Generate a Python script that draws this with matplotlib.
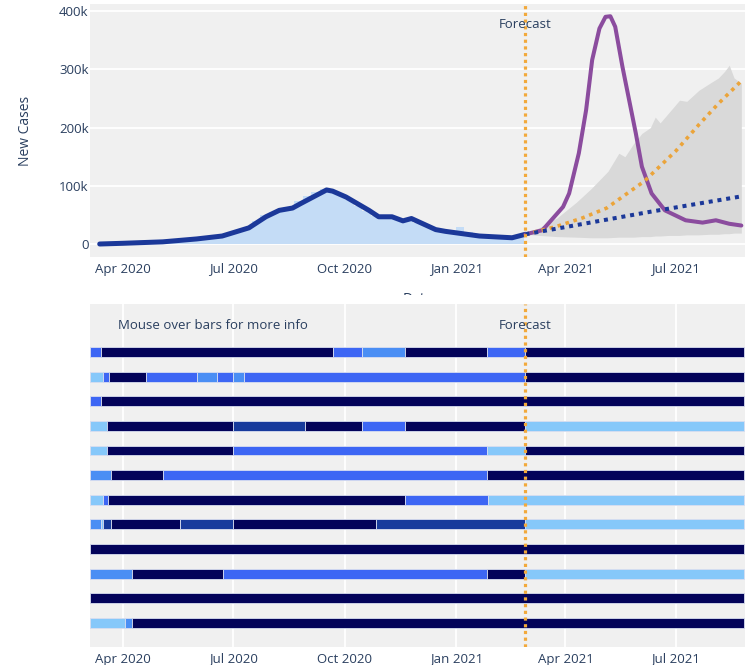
import matplotlib
matplotlib.use("Agg")
import matplotlib.pyplot as plt
import matplotlib.dates as mdates
from matplotlib.patches import Rectangle
import pandas as pd

plt.rcParams['font.family'] = ['Open Sans', 'DejaVu Sans']

TEXT = '#2a3f5f'
BG = '#f0f0f0'

# ---------------- case data (thousands) ----------------
week_dates = pd.date_range('2020-03-09', '2021-02-22', freq='7D')
daily_cases_k = [0.5, 1, 1.5, 2, 2, 2, 2.5, 3, 4, 5, 6, 7, 9, 11, 13, 15, 18, 23,
                 29, 40, 50, 56, 61, 64, 74, 82, 90, 94, 90, 82, 75, 66, 57, 49,
                 46, 46, 39, 42, 37, 31, 26, 22, 20, 30, 21, 15, 13, 12, 11, 12, 15]

hist_dates = ['2020-03-13', '2020-04-01', '2020-05-04', '2020-06-01', '2020-06-22',
              '2020-07-14', '2020-07-28', '2020-08-08', '2020-08-19', '2020-08-26',
              '2020-09-16', '2020-09-21', '2020-10-02', '2020-10-21', '2020-10-29',
              '2020-11-09', '2020-11-18', '2020-11-25', '2020-12-15', '2020-12-23',
              '2021-01-06', '2021-01-20', '2021-02-16', '2021-02-27']
hist_k = [0.3, 1.5, 4, 9, 14, 28, 47, 58, 62, 70, 93, 91, 81, 58, 47, 47, 40, 44,
          25, 22, 18, 14, 11, 17]

surge_dates = ['2021-02-27', '2021-03-13', '2021-03-30', '2021-04-04', '2021-04-12',
               '2021-04-18', '2021-04-23', '2021-04-29', '2021-05-04', '2021-05-08',
               '2021-05-12', '2021-05-18', '2021-05-29', '2021-06-03', '2021-06-11',
               '2021-06-22', '2021-07-09', '2021-07-23', '2021-08-03', '2021-08-14',
               '2021-08-24']
surge_k = [17, 24, 64, 87, 156, 230, 316, 370, 390, 391, 373, 304, 190, 133, 87,
           58, 41, 37, 41, 35, 32]

growth_dates = ['2021-02-27', '2021-03-24', '2021-04-15', '2021-05-05', '2021-06-05',
                '2021-07-01', '2021-07-20', '2021-08-05', '2021-08-24']
growth_k = [17, 30, 45, 62, 108, 160, 205, 241, 280]

trend_dates = ['2021-02-27', '2021-06-11', '2021-08-24']
trend_k = [17, 56, 82]

band_dates = ['2021-02-27', '2021-03-10', '2021-03-25', '2021-04-10', '2021-04-22',
              '2021-04-29', '2021-05-06', '2021-05-15', '2021-05-20', '2021-05-27',
              '2021-06-03', '2021-06-10', '2021-06-14', '2021-06-18', '2021-06-25',
              '2021-07-04', '2021-07-10', '2021-07-20', '2021-07-29', '2021-08-05',
              '2021-08-10', '2021-08-14', '2021-08-18', '2021-08-24']
band_low_k = [17, 15, 13, 12, 11, 11, 11, 12, 12, 12, 13, 13, 14, 14, 15, 15, 16,
              16, 17, 17, 18, 18, 19, 19]
band_high_k = [17, 28, 45, 72, 95, 110, 125, 156, 150, 172, 190, 200, 218, 208,
               225, 247, 245, 264, 276, 285, 296, 307, 285, 276]

forecast_date = '2021-02-27'

# ---------------- timeline rows ----------------
palette = {'N': '#03035a', 'B': '#3d66f4', 'M': '#4a8ef4',
           'L': '#86c8fa', 'D': '#173a9c'}

row_breaks = [
    ['2020-03-05', '2020-03-14', '2020-09-21', '2020-10-15', '2020-11-20', '2021-01-26', '2021-02-27', '2021-08-26'],
    ['2020-03-05', '2020-03-16', '2020-03-21', '2020-04-20', '2020-06-01', '2020-06-18', '2020-07-01', '2020-07-10', '2021-02-27', '2021-08-26'],
    ['2020-03-05', '2020-03-14', '2021-08-26'],
    ['2020-03-05', '2020-03-19', '2020-07-01', '2020-08-29', '2020-10-15', '2020-11-20', '2021-02-27', '2021-08-26'],
    ['2020-03-05', '2020-03-19', '2020-07-01', '2021-01-26', '2021-02-27', '2021-08-26'],
    ['2020-03-05', '2020-03-22', '2020-05-04', '2021-01-26', '2021-08-26'],
    ['2020-03-05', '2020-03-16', '2020-03-20', '2020-11-20', '2021-01-27', '2021-08-26'],
    ['2020-03-05', '2020-03-14', '2020-03-16', '2020-03-22', '2020-05-18', '2020-07-01', '2020-10-27', '2021-02-27', '2021-08-26'],
    ['2020-03-05', '2021-08-26'],
    ['2020-03-05', '2020-04-09', '2020-06-23', '2021-01-26', '2021-02-27', '2021-08-26'],
    ['2020-03-05', '2021-08-26'],
    ['2020-03-05', '2020-04-03', '2020-04-09', '2021-08-26'],
]
row_colors = [
    ['B', 'N', 'B', 'M', 'N', 'B', 'N'],
    ['L', 'B', 'N', 'B', 'M', 'B', 'M', 'B', 'N'],
    ['B', 'N'],
    ['L', 'N', 'D', 'N', 'B', 'N', 'L'],
    ['L', 'N', 'B', 'L', 'N'],
    ['M', 'N', 'B', 'N'],
    ['L', 'B', 'N', 'B', 'L'],
    ['M', 'L', 'D', 'N', 'D', 'N', 'D', 'L'],
    ['N'],
    ['M', 'N', 'B', 'N', 'L'],
    ['N'],
    ['L', 'M', 'N'],
]

tick_dates = ['2020-04-01', '2020-07-01', '2020-10-01', '2021-01-01', '2021-04-01', '2021-07-01']
tick_labels = ['Apr 2020', 'Jul 2020', 'Oct 2020', 'Jan 2021', 'Apr 2021', 'Jul 2021']
x_range = ['2020-03-05', '2021-08-27']


def d(values):
    return mdates.date2num(pd.to_datetime(values))


W, H = 748, 665
fig = plt.figure(figsize=(W / 100, H / 100), dpi=100)


def box(x0, y0, x1, y1):
    return [x0 / W, 1 - y1 / H, (x1 - x0) / W, (y1 - y0) / H]


ax = fig.add_axes(box(90, 4, 745, 257), zorder=0)
ax2 = fig.add_axes(box(90, 304, 745, 647), zorder=2)
fig.add_artist(Rectangle((0, 0), 1, 1 - 295 / H, transform=fig.transFigure,
                         facecolor='white', edgecolor='none', zorder=1))

xticks = d(tick_dates)
xlim = d(x_range)
fx = d([forecast_date])[0]
vline_style = dict(color='#f2a93b', linewidth=2.3, linestyle=(0, (1, 1.1)), zorder=6)

# ---------------- top: cases and forecasts ----------------
ax.set_facecolor(BG)
for s in ax.spines.values():
    s.set_visible(False)
ax.set_yticks([0, 100, 200, 300, 400])
ax.set_yticklabels(['0', '100k', '200k', '300k', '400k'])
ax.set_ylim(-22, 412)
ax.set_xlim(*xlim)
ax.set_xticks(xticks)
ax.set_xticklabels(tick_labels)
ax.grid(axis='y', color='white', linewidth=1.3)
ax.set_axisbelow(True)
ax.tick_params(length=0, labelsize=9.5, labelcolor=TEXT)
ax.tick_params(axis='x', pad=4)
ax.tick_params(axis='y', pad=1)
ax.set_ylabel('New Cases', fontsize=10, color=TEXT, labelpad=19)
ax.set_xlabel('Date', fontsize=10, color=TEXT, labelpad=12)

ax.bar(d(week_dates), daily_cases_k, width=7.0, color='#c4dcf6', linewidth=0, zorder=2)
ax.fill_between(d(band_dates), band_low_k, band_high_k, color='#d9d9d9',
                linewidth=0, zorder=2)
ax.plot(d(hist_dates), hist_k, color='#1b3899', linewidth=3.6,
        solid_capstyle='round', solid_joinstyle='round', zorder=4)
ax.plot(d(surge_dates), surge_k, color='#8b4c9e', linewidth=2.9,
        solid_capstyle='round', solid_joinstyle='round', zorder=4)
ax.plot(d(growth_dates), growth_k, color='#eba43a', linewidth=2.6,
        linestyle=(0, (1, 1.3)), zorder=4)
ax.plot(d(trend_dates), trend_k, color='#1b3899', linewidth=2.9,
        linestyle=(0, (1, 1.2)), zorder=5)
ax.axvline(fx, **vline_style)
ax.text(fx, 377, 'Forecast', ha='center', va='center', fontsize=9.5, color=TEXT, zorder=7)

# ---------------- bottom: timeline ----------------
ax2.set_facecolor(BG)
for s in ax2.spines.values():
    s.set_visible(False)
ax2.set_xlim(*xlim)
ax2.set_ylim(11.98, -1.95)
ax2.set_xticks(xticks)
ax2.set_xticklabels(tick_labels)
ax2.set_yticks([])
ax2.grid(axis='x', color='white', linewidth=1.3)
ax2.set_axisbelow(True)
ax2.tick_params(length=0, labelsize=9.5, labelcolor=TEXT, pad=4)

for i, (breaks, codes) in enumerate(zip(row_breaks, row_colors)):
    b = d(breaks)
    for k, c in enumerate(codes):
        ax2.barh(i, b[k + 1] - b[k], left=b[k], height=0.4, color=palette[c],
                 edgecolor='#d8def0', linewidth=0.6, zorder=2)

ax2.axvline(fx, **vline_style)
ax2.text(fx, -1.06, 'Forecast', ha='center', va='center', fontsize=9.5, color=TEXT, zorder=7)
ax2.text(d(['2020-03-28'])[0], -1.06, 'Mouse over bars for more info', ha='left',
         va='center', fontsize=9.5, color=TEXT, zorder=7)

fig.savefig('out.png', dpi=100, facecolor='white')
